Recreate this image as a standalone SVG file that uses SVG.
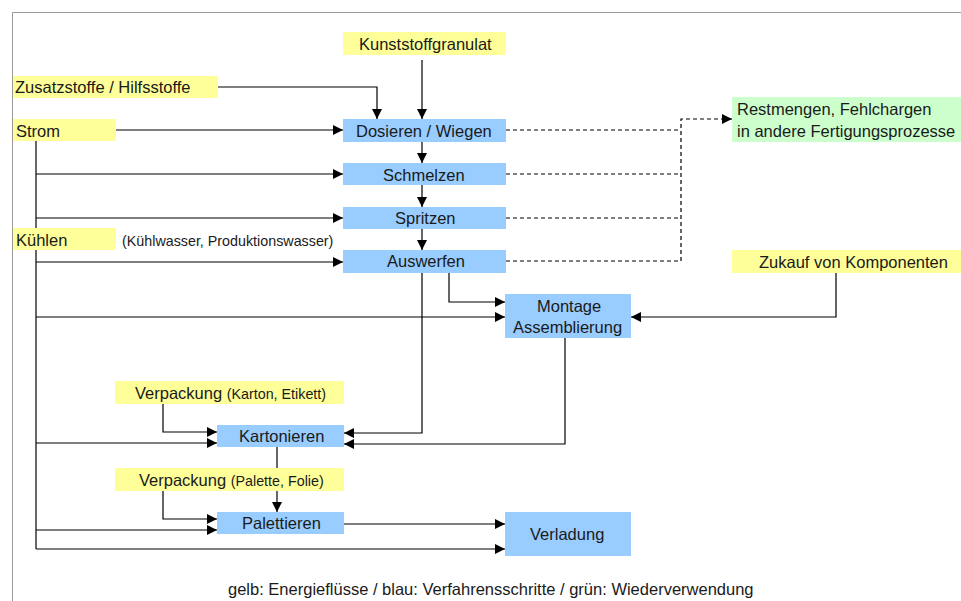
<svg xmlns="http://www.w3.org/2000/svg" width="961" height="601" viewBox="0 0 961 601">
<style>
text{font-family:"Liberation Sans",Arial,sans-serif;font-size:16.5px;fill:#1a1a1a;}
.s{font-size:14.3px;}
.y{fill:#FFFF99;}
.b{fill:#99CCFF;}
.g{fill:#CCFFCC;}
.c line,.c polyline{stroke:#000;stroke-width:1.2;fill:none;}
.c .d{stroke-dasharray:4 3;}
</style>
<defs>
<marker id="a" viewBox="0 0 10 10" refX="10" refY="5" markerWidth="10" markerHeight="10" markerUnits="userSpaceOnUse" orient="auto"><path d="M0,0L10,5L0,10z" fill="#000"/></marker>
</defs>
<rect width="961" height="601" fill="#fff"/>
<path d="M12.5,601V12.5H961" stroke="#999" stroke-width="1" fill="none"/>
<g class="c">
<line x1="422" y1="60" x2="422" y2="119" marker-end="url(#a)"/>
<polyline points="218,87 377,87 377,119" marker-end="url(#a)"/>
<line x1="116" y1="130" x2="343" y2="130" marker-end="url(#a)"/>
<line x1="36" y1="141" x2="36" y2="549"/>
<line x1="36" y1="174" x2="343" y2="174" marker-end="url(#a)"/>
<line x1="36" y1="218" x2="343" y2="218" marker-end="url(#a)"/>
<line x1="36" y1="262" x2="343" y2="262" marker-end="url(#a)"/>
<line x1="422" y1="142" x2="422" y2="163" marker-end="url(#a)"/>
<line x1="422" y1="185" x2="422" y2="207" marker-end="url(#a)"/>
<line x1="422" y1="229" x2="422" y2="250" marker-end="url(#a)"/>
<line class="d" x1="506" y1="130" x2="681" y2="130"/>
<line class="d" x1="506" y1="174" x2="681" y2="174"/>
<line class="d" x1="506" y1="218" x2="681" y2="218"/>
<line class="d" x1="506" y1="261" x2="681" y2="261"/>
<polyline class="d" points="681,261 681,119 732,119" marker-end="url(#a)"/>
<line x1="36" y1="317" x2="505" y2="317" marker-end="url(#a)"/>
<polyline points="449,273 449,302 505,302" marker-end="url(#a)"/>
<polyline points="836,273 836,317 631,317" marker-end="url(#a)"/>
<polyline points="422,273 422,433 344,433" marker-end="url(#a)"/>
<polyline points="565,338 565,444 344,444" marker-end="url(#a)"/>
<polyline points="163,404 163,432 217,432" marker-end="url(#a)"/>
<line x1="36" y1="443" x2="217" y2="443" marker-end="url(#a)"/>
<line x1="277" y1="447" x2="277" y2="512" marker-end="url(#a)"/>
<polyline points="163,491 163,519 217,519" marker-end="url(#a)"/>
<line x1="36" y1="530" x2="217" y2="530" marker-end="url(#a)"/>
<line x1="344" y1="524" x2="505" y2="524" marker-end="url(#a)"/>
<line x1="36" y1="549" x2="505" y2="549" marker-end="url(#a)"/>
</g>
<g id="kunststoff"><rect class="y" x="343" y="32" width="163" height="23"/><text x="359" y="50">Kunststoffgranulat</text></g>
<g id="zusatz"><rect class="y" x="13" y="76" width="205" height="22"/><text x="15" y="93">Zusatzstoffe / Hilfsstoffe</text></g>
<g id="strom"><rect class="y" x="13" y="119" width="103" height="22"/><text x="16" y="137">Strom</text></g>
<g id="kuehlen"><rect class="y" x="13" y="228" width="103" height="22"/><text x="16" y="246">Kühlen</text><text class="s" x="122" y="246">(Kühlwasser, Produktionswasser)</text></g>
<g id="dosieren"><rect class="b" x="343" y="119" width="163" height="23"/><text x="356" y="137">Dosieren / Wiegen</text></g>
<g id="schmelzen"><rect class="b" x="343" y="163" width="163" height="22"/><text x="383" y="181">Schmelzen</text></g>
<g id="spritzen"><rect class="b" x="343" y="207" width="163" height="22"/><text x="395" y="224">Spritzen</text></g>
<g id="auswerfen"><rect class="b" x="343" y="250" width="163" height="23"/><text x="387" y="267">Auswerfen</text></g>
<g id="restmengen"><rect class="g" x="732" y="97" width="229" height="45"/><text x="737" y="115">Restmengen, Fehlchargen</text><text x="737" y="137">in andere Fertigungsprozesse</text></g>
<g id="zukauf"><rect class="y" x="732" y="250" width="229" height="23"/><text x="759" y="268">Zukauf von Komponenten</text></g>
<g id="montage"><rect class="b" x="505" y="294" width="126" height="44"/><text x="537" y="312">Montage</text><text x="513" y="333">Assemblierung</text></g>
<g id="verp1"><rect class="y" x="115" y="381" width="229" height="23"/><text x="135" y="399">Verpackung <tspan class="s">(Karton, Etikett)</tspan></text></g>
<g id="kartonieren"><rect class="b" x="217" y="425" width="127" height="22"/><text x="239" y="442">Kartonieren</text></g>
<g id="verp2"><rect class="y" x="115" y="468" width="229" height="23"/><text x="139" y="486">Verpackung <tspan class="s">(Palette, Folie)</tspan></text></g>
<g id="palettieren"><rect class="b" x="217" y="512" width="127" height="22"/><text x="242" y="529">Palettieren</text></g>
<g id="verladung"><rect class="b" x="505" y="512" width="126" height="44"/><text x="530" y="540">Verladung</text></g>
<text x="228" y="595">gelb: Energieflüsse / blau: Verfahrensschritte / grün: Wiederverwendung</text>
</svg>
